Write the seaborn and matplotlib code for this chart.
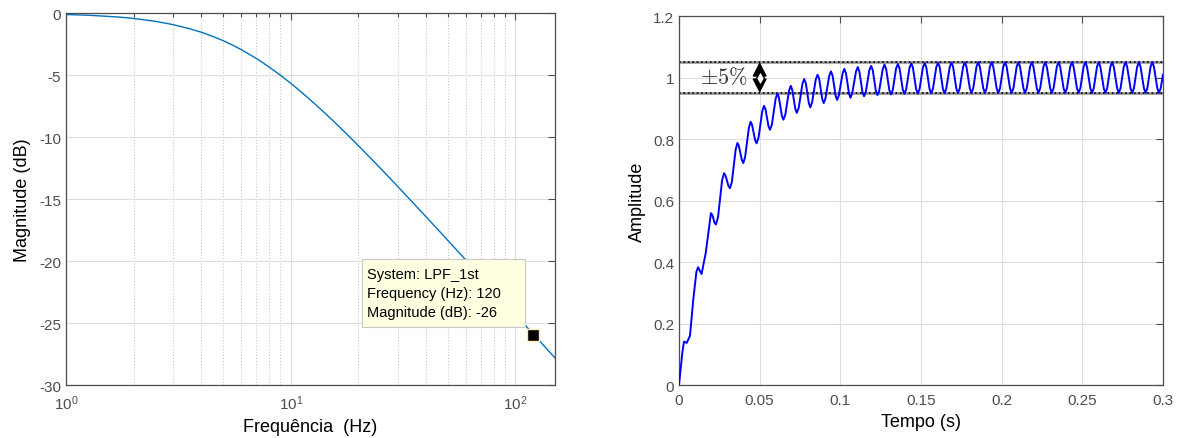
import matplotlib
matplotlib.use('Agg')
import matplotlib.pyplot as plt
import seaborn as sns
from matplotlib.patches import Rectangle
from matplotlib.ticker import LogLocator, NullFormatter

# bode magnitude
freq_hz = [1, 1.25, 1.5, 1.75, 2, 2.5, 3, 3.5, 4, 4.5, 5, 5.5, 6, 6.5, 7, 7.5, 8, 9, 10,
           11, 12, 13.5, 15, 17.5, 20, 25, 30, 35, 40, 50, 60, 70, 80, 100, 120, 150]
mag_db = [-0.12, -0.18, -0.26, -0.34, -0.44, -0.67, -0.94, -1.24, -1.55, -1.89, -2.23,
          -2.58, -2.94, -3.30, -3.65, -4.00, -4.35, -5.02, -5.67, -6.29, -6.88, -7.71,
          -8.48, -9.65, -10.70, -12.50, -14.01, -15.31, -16.43, -18.34, -19.90, -21.23,
          -22.38, -24.31, -25.89, -27.82]
tip_freq = 120
tip_mag = -26
tip_lines = ['System: LPF_1st', 'Frequency (Hz): 120', 'Magnitude (dB): -26']
mag_ticks = [-30, -25, -20, -15, -10, -5, 0]

# step response: first rise, then the 120 Hz ripple
rise_t = [0, 0.0021, 0.0031, 0.0048, 0.0068, 0.0089, 0.0108, 0.0118, 0.0140, 0.0166]
rise_v = [0, 0.106, 0.141, 0.137, 0.160, 0.280, 0.368, 0.383, 0.361, 0.430]

ripple_t = [
    0.0198, 0.0206, 0.0221, 0.0229, 0.0242, 0.0267, 0.0279, 0.0288, 0.0307, 0.0316,
    0.0328, 0.0351, 0.0362, 0.0371, 0.0390, 0.0399, 0.0410, 0.0433, 0.0444, 0.0453,
    0.0472, 0.0481, 0.0493, 0.0516, 0.0527, 0.0536, 0.0555, 0.0564, 0.0576, 0.0599,
    0.0610, 0.0619, 0.0638, 0.0647, 0.0659, 0.0682, 0.0693, 0.0702, 0.0721, 0.0730,
    0.0742, 0.0765, 0.0776, 0.0786, 0.0805, 0.0814, 0.0825, 0.0848, 0.0859, 0.0869,
    0.0888, 0.0897, 0.0908, 0.0931, 0.0942, 0.0952, 0.0971, 0.0980, 0.0991, 0.1014,
    0.1025, 0.1035, 0.1054, 0.1063, 0.1074, 0.1097, 0.1108, 0.1118, 0.1137, 0.1147,
    0.1158, 0.1180, 0.1191, 0.1201, 0.1220, 0.1230, 0.1241, 0.1263, 0.1274, 0.1284,
    0.1304, 0.1314, 0.1325, 0.1346, 0.1357, 0.1367, 0.1387, 0.1397, 0.1408, 0.1429,
    0.1440, 0.1450, 0.1470, 0.1480, 0.1491, 0.1512, 0.1523, 0.1533, 0.1553, 0.1563,
    0.1574, 0.1595, 0.1606, 0.1616, 0.1636, 0.1646, 0.1657, 0.1678, 0.1689, 0.1699,
    0.1719, 0.1729, 0.1740, 0.1761, 0.1772, 0.1782, 0.1803, 0.1813, 0.1824, 0.1844,
    0.1855, 0.1865, 0.1886, 0.1896, 0.1907, 0.1927, 0.1938, 0.1948, 0.1969, 0.1979,
    0.1990, 0.2010, 0.2021, 0.2031, 0.2052, 0.2062, 0.2073, 0.2093, 0.2104, 0.2114,
    0.2135, 0.2145, 0.2156, 0.2176, 0.2187, 0.2197, 0.2218, 0.2228, 0.2239, 0.2259,
    0.2270, 0.2280, 0.2301, 0.2311, 0.2322, 0.2342, 0.2353, 0.2363, 0.2384, 0.2394,
    0.2405, 0.2425, 0.2436, 0.2446, 0.2467, 0.2477, 0.2488, 0.2508, 0.2519, 0.2529,
    0.2550, 0.2560, 0.2571, 0.2591, 0.2602, 0.2612, 0.2633, 0.2643, 0.2654, 0.2674,
    0.2685, 0.2695, 0.2716, 0.2726, 0.2737, 0.2757, 0.2768, 0.2778, 0.2799, 0.2809,
    0.2820, 0.2840, 0.2851, 0.2861, 0.2882, 0.2892, 0.2903, 0.2923, 0.2934, 0.2944,
    0.2965, 0.2975, 0.2986, 0.3000]
ripple_v = [
    0.559, 0.554, 0.527, 0.522, 0.546, 0.665, 0.689, 0.682, 0.647, 0.640,
    0.661, 0.765, 0.787, 0.778, 0.731, 0.722, 0.742, 0.836, 0.856, 0.846,
    0.796, 0.786, 0.804, 0.890, 0.908, 0.897, 0.841, 0.830, 0.847, 0.931,
    0.948, 0.936, 0.875, 0.863, 0.879, 0.957, 0.973, 0.960, 0.898, 0.885,
    0.901, 0.979, 0.995, 0.982, 0.916, 0.903, 0.919, 0.994, 1.009, 0.996,
    0.930, 0.917, 0.932, 1.005, 1.020, 1.006, 0.941, 0.927, 0.942, 1.013,
    1.028, 1.014, 0.948, 0.934, 0.949, 1.019, 1.034, 1.020, 0.953, 0.939,
    0.953, 1.024, 1.038, 1.024, 0.957, 0.943, 0.957, 1.028, 1.042, 1.028,
    0.959, 0.945, 0.959, 1.030, 1.044, 1.030, 0.961, 0.947, 0.961, 1.032,
    1.046, 1.032, 0.962, 0.948, 0.962, 1.033, 1.047, 1.033, 0.963, 0.949,
    0.963, 1.034, 1.048, 1.034, 0.963, 0.949, 0.964, 1.034, 1.049, 1.035,
    0.964, 0.950, 0.964, 1.035, 1.049, 1.035, 0.964, 0.950, 0.965, 1.035,
    1.050, 1.035, 0.965, 0.950, 0.965, 1.035, 1.050, 1.035, 0.965, 0.950,
    0.965, 1.035, 1.050, 1.035, 0.965, 0.950, 0.965, 1.035, 1.050, 1.035,
    0.965, 0.950, 0.965, 1.035, 1.050, 1.035, 0.965, 0.950, 0.965, 1.035,
    1.050, 1.035, 0.965, 0.950, 0.965, 1.035, 1.050, 1.035, 0.965, 0.950,
    0.965, 1.035, 1.050, 1.035, 0.965, 0.950, 0.965, 1.035, 1.050, 1.035,
    0.965, 0.950, 0.965, 1.035, 1.050, 1.035, 0.965, 0.950, 0.965, 1.035,
    1.050, 1.035, 0.965, 0.950, 0.965, 1.035, 1.050, 1.035, 0.965, 0.950,
    0.965, 1.035, 1.050, 1.035, 0.965, 0.950, 0.965, 1.035, 1.050, 1.035,
    0.965, 0.950, 0.965, 1.010]

band = [0.95, 1.05]
band_t = 0.05
time_ticks = [0, 0.05, 0.1, 0.15, 0.2, 0.25, 0.3]
time_labels = ['0', '0.05', '0.1', '0.15', '0.2', '0.25', '0.3']
amp_ticks = [0, 0.2, 0.4, 0.6, 0.8, 1.0, 1.2]
amp_labels = ['0', '0.2', '0.4', '0.6', '0.8', '1', '1.2']

sns.set_style('white')
plt.rcParams['font.family'] = ['Liberation Sans', 'DejaVu Sans']
plt.rcParams['axes.unicode_minus'] = False
plt.rcParams['mathtext.fontset'] = 'custom'
plt.rcParams['mathtext.rm'] = 'Liberation Sans'

tick_col = '#4d4d4d'
grid_col = '#dedede'

fig = plt.figure(figsize=(11.79, 4.39), dpi=100)
ax1 = fig.add_axes([0.056, 0.1207, 0.4148, 0.8474])
ax2 = fig.add_axes([0.5759, 0.1207, 0.4105, 0.8405])

def matlab_box(ax):
    for s in ax.spines.values():
        s.set_color(tick_col)
        s.set_linewidth(0.9)
    ax.tick_params(which='both', direction='in', top=True, right=True,
                   colors=tick_col, labelsize=11, width=0.8)
    ax.tick_params(which='major', length=5)
    ax.tick_params(which='minor', length=3)
    ax.set_axisbelow(True)

# ---- left: bode magnitude
sns.lineplot(x=freq_hz, y=mag_db, ax=ax1, color='#0072BD', linewidth=1.0)
ax1.set_xscale('log')
ax1.set_xlim(1, 150)
ax1.set_ylim(-30, 0)
ax1.set_yticks(mag_ticks)
ax1.xaxis.set_minor_locator(LogLocator(base=10, subs=range(2, 10)))
ax1.xaxis.set_minor_formatter(NullFormatter())
ax1.grid(True, which='major', color=grid_col, linewidth=0.8)
ax1.grid(True, which='minor', axis='x', color='#c8c8c8', linestyle=':', linewidth=0.8)
matlab_box(ax1)
ax1.tick_params(axis='x', pad=6)
ax1.set_xlabel('Frequência  (Hz)', fontsize=13, color='k', labelpad=4)
ax1.set_ylabel('Magnitude (dB)', fontsize=13, color='k', labelpad=6)

ax1.plot(tip_freq, tip_mag, marker='s', markersize=8, markerfacecolor='k',
         markeredgecolor='#f5f0b0', markeredgewidth=1, zorder=6)
ax1.add_patch(Rectangle((0.6047, 0.155), 0.334, 0.1837, transform=ax1.transAxes,
                        facecolor='#ffffe1', edgecolor='#c8c8c8', linewidth=0.8, zorder=5))
for i, line in enumerate(tip_lines):
    ax1.text(0.615, 0.298 - i * 0.0515, line, transform=ax1.transAxes, fontsize=10.5,
             va='center', ha='left', color='k', zorder=7)

# ---- right: step response
ax2.grid(True, color=grid_col, linewidth=0.8)
for b in band:
    ax2.axhline(b, color='#8c8c8c', linewidth=1.8, zorder=2)
    ax2.axhline(b, color='k', linestyle=':', linewidth=1.2, zorder=2.1)
sns.lineplot(x=rise_t + ripple_t, y=rise_v + ripple_v, ax=ax2, color='#0000FF',
             linewidth=1.4, sort=False, estimator=None, zorder=3)
ax2.set_xlim(0, 0.3)
ax2.set_ylim(0, 1.2)
ax2.set_xticks(time_ticks)
ax2.set_xticklabels(time_labels)
ax2.set_yticks(amp_ticks)
ax2.set_yticklabels(amp_labels)
matlab_box(ax2)
ax2.tick_params(axis='x', pad=6)
ax2.set_xlabel('Tempo (s)', fontsize=13, color='k', labelpad=4)
ax2.set_ylabel('Amplitude', fontsize=13, color='k', labelpad=5)

ax2.annotate('', xy=(band_t, band[1]), xytext=(band_t, band[0]),
             arrowprops=dict(arrowstyle='<|-|>,head_length=0.66,head_width=0.34',
                             color='k', lw=1.2, shrinkA=0, shrinkB=0,
                             mutation_scale=13), zorder=5)
ax2.plot(band_t, sum(band) / 2, marker='d', markersize=7, markerfacecolor='white',
         markeredgecolor='k', markeredgewidth=1, zorder=6)
ax2.text(0.0425, sum(band) / 2, r'$\pm5\%$', ha='right', va='center', fontsize=16,
         math_fontfamily='cm', color='#333333')

fig.savefig('out.png', dpi=100)
